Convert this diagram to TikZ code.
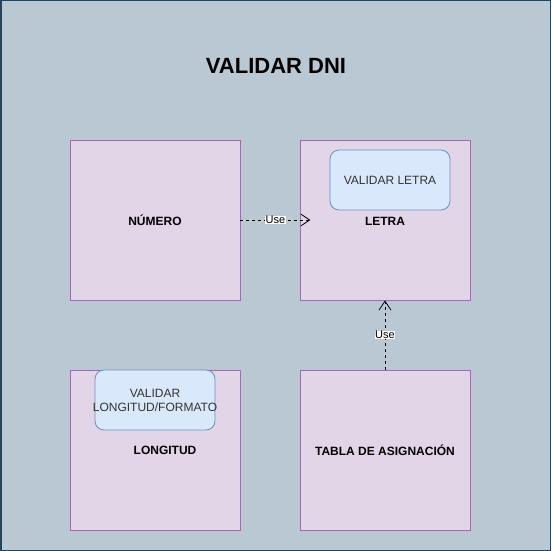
\documentclass[tikz,border=0pt]{standalone}
\usepackage{fontspec}
\setmainfont{Liberation Sans}
\usetikzlibrary{arrows.meta,positioning}

\definecolor{dniback}{HTML}{BAC8D3}
\definecolor{dniframe}{HTML}{23445D}
\definecolor{boxfill}{HTML}{E1D5E7}
\definecolor{boxline}{HTML}{9673A6}
\definecolor{taskfill}{HTML}{DAE8FC}
\definecolor{taskline}{HTML}{6C8EBF}
\definecolor{tasktext}{HTML}{333333}

\begin{document}
\begin{tikzpicture}[x=1pt, y=-1pt,
					dni box/.style={draw=boxline, fill=boxfill, line width=0.8pt, minimum width=170pt, minimum height=160pt, inner sep=0pt, font=\fontsize{12}{14}\selectfont\bfseries},
					dni task/.style={draw=taskline, fill=taskfill, line width=0.8pt, rounded corners=9pt, minimum width=120pt, minimum height=60pt, inner sep=0pt, align=center, text=tasktext, font=\fontsize{12}{14}\selectfont},
					dni use/.style={black, line width=0.8pt, dash pattern=on 3pt off 3pt, -{Straight Barb[length=9pt,width=12pt]}},
					use label/.style={fill=white, inner sep=0.5pt, font=\fontsize{11}{12}\selectfont},
				]
					\useasboundingbox (0,0) rectangle (551,551);
					\draw[dniframe, fill=dniback, line width=1.5pt] (0.75,0.75) rectangle (550.25,550.25);
					
					\node[font=\fontsize{22}{25}\selectfont\bfseries] (title) at (276,66) {VALIDAR DNI};
					
					\node[dni box] (numero) at (155,220) {NÚMERO};
					\node[dni box] (letra) at (385,220) {};
					\node[dni box, label={[font=\fontsize{12}{14}\selectfont\bfseries, xshift=10pt]center:LONGITUD}] (longitud) at (155,450) {};
					\node[dni box] (tabla) at (385,450) {TABLA DE ASIGNACIÓN};
					
					\node[font=\fontsize{12}{14}\selectfont\bfseries] (letralbl) at (385,221) {LETRA};
					\node[dni task] (valletra) at (390,180) {VALIDAR LETRA};
					\node[dni task, label={[align=center, text=tasktext, font=\fontsize{12}{14}\selectfont]center:VALIDAR\\LONGITUD/FORMATO}] (vallong) at (155,400) {};
					
					\coordinate (letrain) at ([xshift=70pt]numero.east);
					\draw[dni use] (numero.east) -- node[use label] {Use} (letrain);
					\draw[dni use] (tabla.north) -- node[use label] {Use} (letra.south);
				\end{tikzpicture}
\end{document}
